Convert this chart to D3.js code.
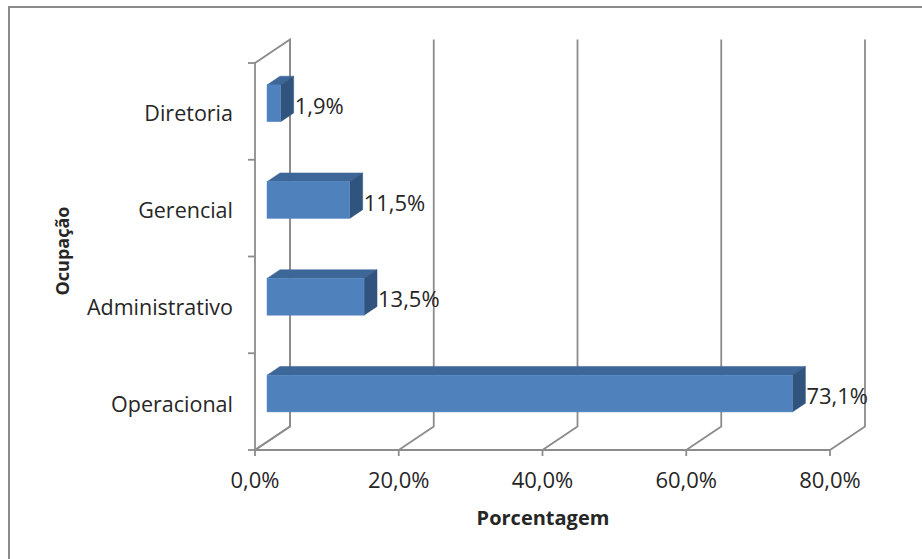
<!DOCTYPE html>
<html>
<head>
<meta charset="utf-8">
<script src="https://cdn.jsdelivr.net/npm/d3@7"></script>
<style>
    body { margin: 0; background: #fff; }
    svg text { font-family: "Open Sans", sans-serif; fill: #262626; }
</style>
</head>
<body>
<div id="chartdiv"></div>
<script>
// Data
var categories = ["Diretoria", "Gerencial", "Administrativo", "Operacional"];
var values = [1.9, 11.5, 13.5, 73.1];
var ticks = [0, 20, 40, 60, 80];
var axisTitleX = "Porcentagem";
var axisTitleY = "Ocupação";

var width = 922, height = 559;
var svg = d3.select("#chartdiv").append("svg").attr("width", width).attr("height", height);

// outer border
svg.append("rect").attr("x", 9).attr("y", 7).attr("width", width).attr("height", height)
    .attr("fill", "none").attr("stroke", "#8a8a8a").attr("stroke-width", 2);

// front plane scales + depth offset for the 3d look
var x = d3.scaleLinear().domain([0, 80]).range([255, 830]);
var y = d3.scaleBand().domain(categories).range([63, 450]).paddingInner(0.62).paddingOuter(0.31);
var depth = { dx: 35, dy: -23.5 };
var top0 = 63, base = 450;
var gridColor = "#8c8c8c";

function fmt(v) {
    return v.toFixed(1).replace(".", ",") + "%";
}

var grid = svg.append("g").attr("fill", "none").attr("stroke", gridColor).attr("stroke-width", 1.8);

// left wall
grid.append("path").attr("d", d3.line()([
    [x(0), base], [x(0), top0], [x(0) + depth.dx, top0 + depth.dy], [x(0) + depth.dx, base + depth.dy], [x(0), base]
]));
// back wall verticals and floor diagonals for every tick
ticks.forEach(function(t) {
    grid.append("path").attr("d", d3.line()([
        [x(t) + depth.dx, top0 + depth.dy], [x(t) + depth.dx, base + depth.dy], [x(t), base], [x(t), base + 6]
    ]));
});
// front baseline
grid.append("line").attr("x1", x(0)).attr("x2", x(80)).attr("y1", base).attr("y2", base);
// category ticks on the left
var bounds = categories.map(function(c) { return y(c) - y.step() * y.paddingInner() / 2; });
bounds.push(base);
bounds[0] = top0;
bounds.forEach(function(b) {
    grid.append("line").attr("x1", x(0) - 7).attr("x2", x(0)).attr("y1", b).attr("y2", b);
});

// tick labels
svg.append("g").selectAll("text").data(ticks).enter().append("text")
    .attr("x", function(d) { return x(d); }).attr("y", 488)
    .attr("text-anchor", "middle").style("font-size", "22px")
    .text(function(d) { return fmt(d); });

// category labels
svg.append("g").selectAll("text").data(categories).enter().append("text")
    .attr("x", 233).attr("y", function(d) { return y(d) + y.bandwidth() / 2 + 10; })
    .attr("text-anchor", "end").style("font-size", "21.5px")
    .text(function(d) { return d; });

// bars: front face, top face, side face
var t0 = 0.343, t1 = 0.714;
var bars = svg.append("g");
categories.forEach(function(c, i) {
    var v = values[i];
    var x0 = x(0) + depth.dx * t0, x1 = x(v) + depth.dx * t0;
    var yt = y(c) + depth.dy * t0, yb = yt + y.bandwidth();
    var ddx = depth.dx * (t1 - t0), ddy = depth.dy * (t1 - t0);
    bars.append("path").attr("fill", "#3d6699").attr("stroke", "#3a6294").attr("stroke-width", 0.5)
        .attr("d", d3.line()([[x0, yt], [x0 + ddx, yt + ddy], [x1 + ddx, yt + ddy], [x1, yt]]) + "Z");
    bars.append("path").attr("fill", "#31547f").attr("stroke", "#2f5079").attr("stroke-width", 0.5)
        .attr("d", d3.line()([[x1, yt], [x1 + ddx, yt + ddy], [x1 + ddx, yb + ddy], [x1, yb]]) + "Z");
    bars.append("rect").attr("x", x0).attr("y", yt).attr("width", x1 - x0).attr("height", yb - yt)
        .attr("fill", "#4f81bd").attr("stroke", "#5b8cc8").attr("stroke-width", 0.5);
    // value label
    svg.append("text").attr("x", x1 + ddx + 1).attr("y", (yt + yb) / 2 + 10.5)
        .style("font-size", "22px").text(fmt(v));
});

// axis titles
svg.append("text").attr("x", 543).attr("y", 525).attr("text-anchor", "middle")
    .style("font-size", "20px").style("font-weight", "bold").text(axisTitleX);
svg.append("text").attr("transform", "translate(69,251) rotate(-90)").attr("text-anchor", "middle")
    .style("font-size", "18px").style("font-weight", "bold").text(axisTitleY);
</script>
</body>
</html>
